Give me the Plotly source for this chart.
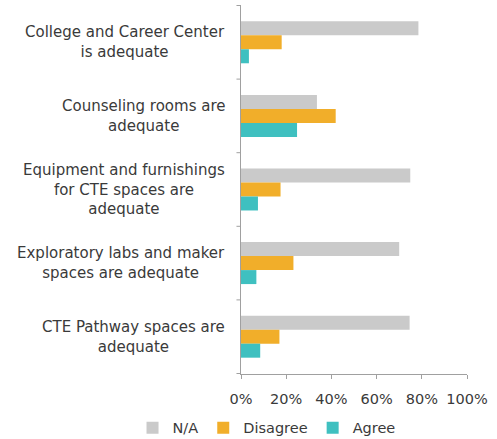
import plotly.graph_objects as go

# Survey items (top to bottom) and percentage of responses per answer
categories = [
    "College and Career Center<br>is adequate",
    "Counseling rooms are<br>adequate",
    "Equipment and furnishings<br>for CTE spaces are<br>adequate",
    "Exploratory labs and maker<br>spaces are adequate",
    "CTE Pathway spaces are<br>adequate",
]
na_vals = [0.785, 0.336, 0.749, 0.70, 0.746]
disagree_vals = [0.18, 0.419, 0.175, 0.232, 0.17]
agree_vals = [0.035, 0.248, 0.075, 0.068, 0.085]
x_ticks = [0, 0.2, 0.4, 0.6, 0.8, 1.0]
x_tick_labels = ["0%", "20%", "40%", "60%", "80%", "100%"]

series = [
    ("N/A", na_vals, "#cacaca"),
    ("Disagree", disagree_vals, "#f1ae2a"),
    ("Agree", agree_vals, "#3fc0c0"),
]

font_family = "DejaVu Sans, Liberation Sans, sans-serif"
text_color = "#3a3a3a"
axis_color = "#a0a0a0"

fig = go.Figure()
for name, vals, color in series:
    fig.add_trace(go.Bar(
        name=name, x=vals, y=categories, orientation="h",
        marker=dict(color=color, line=dict(width=0)),
    ))

# Category labels, centered per line
for cat in categories:
    fig.add_annotation(
        x=0, xref="paper", xanchor="right", xshift=-14,
        y=cat, yref="y", yanchor="middle",
        text=cat, showarrow=False, align="center",
        font=dict(family=font_family, size=15, color=text_color),
    )

fig.update_layout(
    width=497, height=439,
    margin=dict(l=241, r=30, t=5, b=65, autoexpand=False),
    paper_bgcolor="white", plot_bgcolor="white",
    barmode="group", bargap=0.43, bargroupgap=0,
    font=dict(family=font_family, size=14.5, color=text_color),
    showlegend=True,
    legend=dict(
        orientation="h", xref="paper", yref="paper",
        x=-0.48, xanchor="left", y=-0.146, yanchor="middle",
        font=dict(family=font_family, size=14.5, color=text_color),
        itemwidth=30, traceorder="normal", tracegroupgap=0,
    ),
    xaxis=dict(
        range=[0, 1.0], tickvals=x_ticks, ticktext=x_tick_labels,
        showgrid=False, zeroline=False,
        showline=True, linecolor=axis_color, linewidth=1,
        ticks="outside", ticklen=4, tickcolor=axis_color,
        ticklabelstandoff=8,
        tickfont=dict(family=font_family, size=14.5, color=text_color),
    ),
    yaxis=dict(
        autorange="reversed", showgrid=False, zeroline=False,
        showline=True, linecolor=axis_color, linewidth=1,
        showticklabels=False, ticks="",
    ),
)

# Tick marks on the category axis at group boundaries
for i in range(len(categories) + 1):
    fig.add_shape(
        type="line", xref="paper", yref="y",
        x0=-0.02, x1=0, y0=i - 0.5, y1=i - 0.5,
        line=dict(color=axis_color, width=1),
    )

fig.write_html("out.html")
